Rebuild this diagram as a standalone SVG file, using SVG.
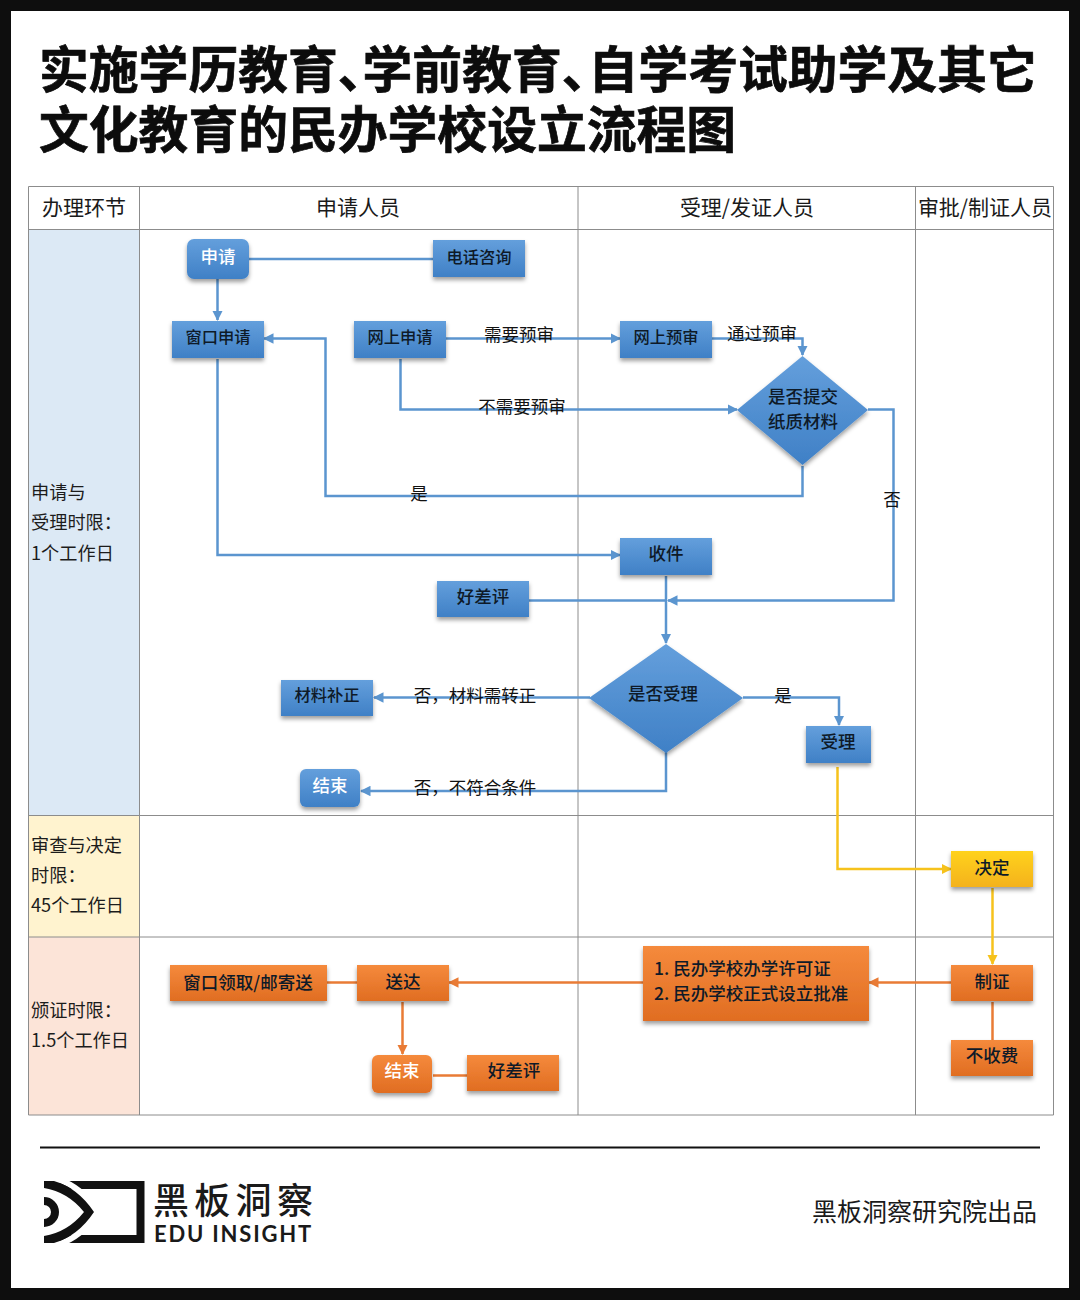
<svg xmlns="http://www.w3.org/2000/svg" width="1080" height="1300" viewBox="0 0 1080 1300">
<style>
text{font-family:"Noto Sans CJK SC","Noto Sans",sans-serif;fill:#151515}
.t{font-size:49.800px;font-weight:700;fill:#0c0c0c;stroke:#0c0c0c;stroke-width:.7}
.h{font-size:21px;text-anchor:middle;fill:#1a1a1a}
.s{font-size:18.200px;fill:#1c1c1c}
.n{font-size:17.500px;text-anchor:middle;font-weight:500;fill:#0e1a28}
.m{font-size:16.300px}
.w{fill:#fff}
.l{font-size:17.500px;text-anchor:middle;fill:#111}
.g{fill:none;stroke:#8c8c8c;stroke-width:1}
.b{fill:none;stroke:#5b95cf;stroke-width:2.500}
.y{fill:none;stroke:#f6c21c;stroke-width:2.500}
.o{fill:none;stroke:#e97b35;stroke-width:2.500}
.bn{fill:url(#bg);filter:url(#sh)}
.yn{fill:url(#yg);filter:url(#sh)}
.on{fill:url(#og);filter:url(#sh)}
</style>
<defs>
<linearGradient id="bg" x1="0" y1="0" x2="0" y2="1"><stop offset="0" stop-color="#649fdc"/><stop offset="1" stop-color="#3f80c6"/></linearGradient>
<linearGradient id="yg" x1="0" y1="0" x2="0" y2="1"><stop offset="0" stop-color="#ffd21c"/><stop offset="1" stop-color="#f4b21a"/></linearGradient>
<linearGradient id="og" x1="0" y1="0" x2="0" y2="1"><stop offset="0" stop-color="#f58a3c"/><stop offset="1" stop-color="#e06d22"/></linearGradient>
<filter id="sh" x="-20%" y="-20%" width="140%" height="150%"><feDropShadow dx="0" dy="3" stdDeviation="2" flood-color="#000" flood-opacity=".38"/></filter>
<marker id="ab" markerWidth="4.200" markerHeight="4.200" refX="3.800" refY="2.100" orient="auto"><path d="M0 0L4.200 2.100L0 4.200z" fill="#5b95cf"/></marker>
<marker id="ay" markerWidth="4.200" markerHeight="4.200" refX="3.800" refY="2.100" orient="auto"><path d="M0 0L4.200 2.100L0 4.200z" fill="#f6c21c"/></marker>
<marker id="ao" markerWidth="4.200" markerHeight="4.200" refX="3.800" refY="2.100" orient="auto"><path d="M0 0L4.200 2.100L0 4.200z" fill="#e97b35"/></marker>
</defs>
<rect width="1080" height="1300" fill="#0e0e0e"/>
<rect x="11" y="11" width="1058" height="1277" fill="#fff"/>
<text class="t" x="39" y="88">实施学历教育<tspan letter-spacing="-25">、</tspan>学前教育<tspan letter-spacing="-23">、</tspan>自学考试助学及其它</text>
<text class="t" x="39" y="148">文化教育的民办学校设立流程图</text>

<g id="table">
<rect x="28" y="229" width="111" height="586" fill="#dce9f5"/>
<rect x="28" y="815" width="111" height="122" fill="#fff3cf"/>
<rect x="28" y="937" width="111" height="178" fill="#fce4d8"/>
<path class="g" d="M28.500 186.500H1053.500V1115H28.500ZM139.500 186.500V1115M578 186.500V1115M915.500 186.500V1115M28 229.500H1053M28 815.500H1053M28 937H1053"/>
<text class="h" x="84" y="215">办理环节</text>
<text class="h" x="358" y="215">申请人员</text>
<text class="h" x="747" y="215">受理/发证人员</text>
<text class="h" x="985" y="215">审批/制证人员</text>
<text class="s" x="31" y="499">申请与</text>
<text class="s" x="31" y="529">受理时限：</text>
<text class="s" x="31" y="560">1个工作日</text>
<text class="s" x="31" y="852">审查与决定</text>
<text class="s" x="31" y="882">时限：</text>
<text class="s" x="31" y="912">45个工作日</text>
<text class="s" x="31" y="1017">颁证时限：</text>
<text class="s" x="31" y="1047">1.5个工作日</text>
</g>

<g id="connectors">
<path class="b" d="M249 259H433"/>
<path class="b" marker-end="url(#ab)" d="M217.500 279V320"/>
<path class="b" marker-end="url(#ab)" d="M446 338.500H620"/>
<path class="b" marker-end="url(#ab)" d="M712 338.500H802.500V355"/>
<path class="b" marker-end="url(#ab)" d="M400.500 359V409.500H737"/>
<path class="b" marker-end="url(#ab)" d="M802.500 466V496H325.500V338.500H264"/>
<path class="b" marker-end="url(#ab)" d="M217.500 359V555H620"/>
<path class="b" marker-end="url(#ab)" d="M868 409.500H893.500V600.500H668"/>
<path class="b" d="M529 600.500H666"/>
<path class="b" marker-end="url(#ab)" d="M666 576V643"/>
<path class="b" marker-end="url(#ab)" d="M590 697.500H374"/>
<path class="b" marker-end="url(#ab)" d="M743 697.500H839V725"/>
<path class="b" marker-end="url(#ab)" d="M666 752V791H361"/>
<path class="y" marker-end="url(#ay)" d="M837.500 767V869H951"/>
<path class="y" marker-end="url(#ay)" d="M992.500 888V964"/>
<path class="o" d="M992.500 1002V1040"/>
<path class="o" marker-end="url(#ao)" d="M951 982.500H869"/>
<path class="o" marker-end="url(#ao)" d="M643 982.500H449"/>
<path class="o" d="M357 982.500H327"/>
<path class="o" marker-end="url(#ao)" d="M402.500 1002V1054"/>
<path class="o" d="M433 1075.500H467"/>
</g>

<g id="n1"><rect class="bn" x="187" y="239" width="62" height="40" rx="7"/><text class="n w" x="218" y="263">申请</text></g>
<g id="n2"><rect class="bn" x="433" y="240" width="92" height="37"/><text class="n m" x="479" y="263">电话咨询</text></g>
<g id="n3"><rect class="bn" x="172" y="321" width="92" height="37"/><text class="n m" x="218" y="343">窗口申请</text></g>
<g id="n4"><rect class="bn" x="354" y="321" width="92" height="37"/><text class="n m" x="400" y="343">网上申请</text></g>
<g id="n5"><rect class="bn" x="620" y="321" width="92" height="37"/><text class="n m" x="666" y="343">网上预审</text></g>
<g id="n6"><path class="bn" d="M802.500 356L868 410L802.500 465L737 410Z"/><text class="n" x="803" y="403">是否提交</text><text class="n" x="803" y="428">纸质材料</text></g>
<g id="n7"><rect class="bn" x="620" y="538" width="92" height="37"/><text class="n" x="666" y="560">收件</text></g>
<g id="n8"><rect class="bn" x="437" y="581" width="92" height="36"/><text class="n" x="483" y="603">好差评</text></g>
<g id="n9"><path class="bn" d="M666 644L743 698L666 753L589 698Z"/><text class="n" x="663" y="700">是否受理</text></g>
<g id="n10"><rect class="bn" x="281" y="680" width="92" height="36"/><text class="n m" x="327" y="701">材料补正</text></g>
<g id="n11"><rect class="bn" x="806" y="726" width="65" height="37"/><text class="n" x="838" y="748">受理</text></g>
<g id="n12"><rect class="bn" x="300" y="769" width="60" height="38" rx="6"/><text class="n w" x="330" y="792">结束</text></g>
<g id="n13"><rect class="yn" x="951" y="851" width="82" height="36"/><text class="n" x="992" y="874">决定</text></g>
<g id="n14"><rect class="on" x="951" y="965" width="82" height="36"/><text class="n" x="992" y="988">制证</text></g>
<g id="n15"><rect class="on" x="951" y="1040" width="82" height="36"/><text class="n" x="992" y="1062">不收费</text></g>
<g id="n16"><rect class="on" x="643" y="946" width="226" height="75"/><text class="n" x="654" y="975" style="text-anchor:start">1. 民办学校办学许可证</text><text class="n" x="654" y="1000" style="text-anchor:start">2. 民办学校正式设立批准</text></g>
<g id="n17"><rect class="on" x="357" y="965" width="92" height="36"/><text class="n" x="403" y="988">送达</text></g>
<g id="n18"><rect class="on" x="170" y="965" width="157" height="36"/><text class="n" x="248" y="989">窗口领取/邮寄送</text></g>
<g id="n19"><rect class="on" x="372" y="1055" width="60" height="38" rx="6"/><text class="n w" x="402" y="1077">结束</text></g>
<g id="n20"><rect class="on" x="467" y="1055" width="92" height="36"/><text class="n" x="514" y="1077">好差评</text></g>

<g id="labels">
<text class="l" x="519" y="341">需要预审</text>
<text class="l" x="762" y="340">通过预审</text>
<text class="l" x="522" y="413">不需要预审</text>
<text class="l" x="419" y="500">是</text>
<text class="l" x="892" y="506">否</text>
<text class="l" x="475" y="702">否，材料需转正</text>
<text class="l" x="783" y="702">是</text>
<text class="l" x="475" y="794">否，不符合条件</text>
</g>

<path d="M40 1147.500H1040" stroke="#111" stroke-width="2"/>
<g id="logo">
<path fill-rule="evenodd" d="M60 1181H144.500V1243H60ZM60 1189H136.500V1235H60Z" fill="#111"/>
<path d="M57 1179Q82 1187 98 1212Q82 1237 57 1245" fill="none" stroke="#fff" stroke-width="6"/>
<path d="M44 1181H54Q78 1188 94 1212Q78 1236 54 1243H44V1236Q68 1232 84 1212Q68 1192 44 1188Z" fill="#111"/>
<path d="M44 1197A15 15 0 0 1 44 1227V1219A7 7 0 0 0 44 1205Z" fill="#111"/>
<text x="153" y="1214" style="font-size:36px;font-weight:500;letter-spacing:5.300px;fill:#1a1a1a">黑板洞察</text>
<text x="154" y="1242" style="font-size:22px;font-family:Lato,sans-serif;font-weight:700;letter-spacing:1.800px;fill:#1a1a1a">EDU INSIGHT</text>
</g>
<text x="812" y="1221" style="font-size:25px;fill:#1a1a1a">黑板洞察研究院出品</text>
</svg>
